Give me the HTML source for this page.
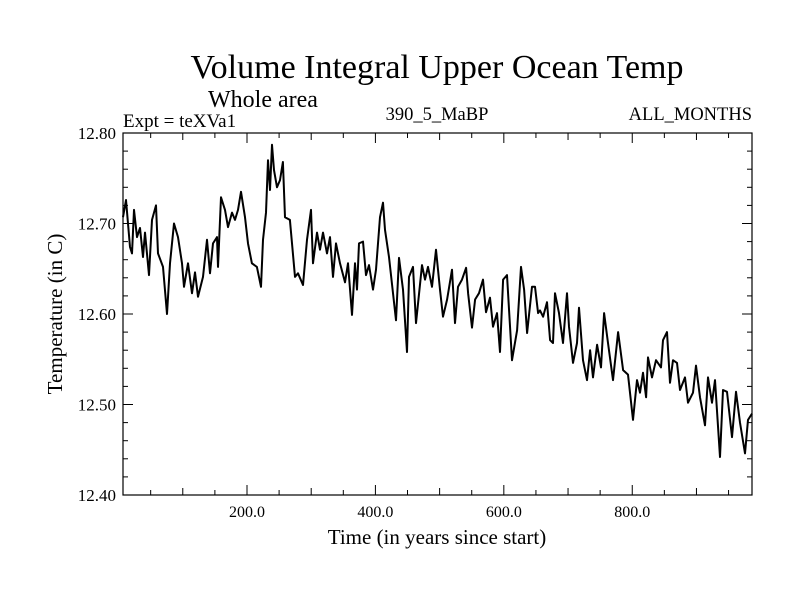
<!DOCTYPE html>
<html><head><meta charset="utf-8"><style>
body{margin:0;background:#fff}
svg{display:block}
text{font-family:"Liberation Serif",serif;fill:#000}
</style></head><body>
<svg id="chart" width="800" height="600" viewBox="0 0 800 600">
<rect width="800" height="600" fill="#fff"/>
<text x="437" y="78" font-size="34" text-anchor="middle">Volume Integral Upper Ocean Temp</text>
<text x="208" y="107" font-size="24">Whole area</text>
<text x="123" y="127" font-size="19">Expt = teXVa1</text>
<text x="437" y="120" font-size="18.5" text-anchor="middle">390_5_MaBP</text>
<text x="752" y="120" font-size="18.5" text-anchor="end">ALL_MONTHS</text>
<text x="437" y="544" font-size="21" text-anchor="middle">Time (in years since start)</text>
<text transform="translate(62,314) rotate(-90)" font-size="21" text-anchor="middle">Temperature (in C)</text>
<g id="axes"></g>
<rect x="123" y="133" width="629" height="362" fill="none" stroke="#000" stroke-width="1.2"/>
</svg>
<script>
const years=[6.9,11.5,17.8,20.9,24.0,28.7,33.3,38.0,41.1,47.4,52.0,58.3,61.4,69.2,75.4,80.1,86.3,92.5,98.8,101.9,108.1,114.3,119.0,123.7,131.5,137.7,142.4,147.0,153.3,154.8,159.5,165.7,170.4,176.6,181.3,186.0,190.6,196.9,201.5,207.7,215.5,221.8,224.9,229.6,232.7,235.8,238.9,242.0,246.7,251.4,256.0,259.2,266.9,274.7,279.4,287.2,293.4,299.7,302.8,309.0,313.7,318.4,324.6,329.3,334.0,338.6,344.8,352.6,357.3,363.5,368.2,371.3,374.4,380.7,385.3,390.0,396.2,400.9,407.1,411.8,414.9,421.2,427.4,432.1,436.8,443.0,449.2,452.3,458.6,463.2,472.6,477.3,481.9,488.2,494.4,500.6,505.3,511.6,519.3,524.0,528.7,534.9,541.2,544.3,550.5,555.2,561.4,567.6,572.3,578.5,583.2,589.4,594.1,598.8,605.0,612.8,620.6,626.8,631.5,636.2,643.9,648.6,653.3,656.4,661.1,667.3,672.0,676.6,679.7,686.0,692.2,698.4,701.5,707.8,714.0,717.1,723.3,729.6,734.3,738.9,745.2,751.4,756.1,762.3,770.1,777.9,785.7,793.4,801.2,807.4,812.1,816.8,821.5,824.6,830.8,837.0,844.8,847.9,854.1,858.8,863.5,869.7,874.4,882.2,886.8,894.6,899.3,905.5,913.3,918.0,924.2,928.9,936.7,941.3,947.6,955.4,961.6,967.8,975.6,980.3,986.5];
const temps=[12.707,12.726,12.674,12.667,12.715,12.685,12.695,12.663,12.69,12.643,12.704,12.72,12.667,12.652,12.60,12.656,12.70,12.685,12.656,12.63,12.656,12.623,12.646,12.619,12.641,12.682,12.645,12.678,12.685,12.652,12.729,12.715,12.696,12.712,12.704,12.715,12.735,12.707,12.678,12.656,12.652,12.63,12.682,12.712,12.77,12.737,12.787,12.759,12.74,12.748,12.768,12.707,12.704,12.641,12.645,12.632,12.682,12.715,12.656,12.69,12.671,12.69,12.667,12.685,12.641,12.678,12.656,12.635,12.656,12.599,12.656,12.627,12.678,12.68,12.643,12.654,12.627,12.649,12.707,12.723,12.693,12.663,12.623,12.593,12.662,12.627,12.558,12.641,12.652,12.59,12.654,12.638,12.652,12.63,12.671,12.627,12.597,12.616,12.649,12.59,12.63,12.638,12.651,12.623,12.585,12.616,12.623,12.638,12.602,12.618,12.586,12.601,12.558,12.638,12.643,12.549,12.582,12.652,12.627,12.579,12.63,12.63,12.601,12.604,12.597,12.613,12.571,12.568,12.623,12.601,12.568,12.623,12.586,12.546,12.568,12.607,12.549,12.527,12.56,12.53,12.566,12.541,12.601,12.568,12.527,12.58,12.538,12.533,12.483,12.527,12.513,12.535,12.508,12.552,12.53,12.549,12.541,12.571,12.58,12.524,12.549,12.546,12.516,12.53,12.502,12.513,12.543,12.508,12.477,12.53,12.502,12.527,12.442,12.516,12.514,12.464,12.514,12.48,12.446,12.483,12.49];
const xTickLabels=["200.0","400.0","600.0","800.0"];
const xTickValues=[200,400,600,800];
const yTickLabels=["12.40","12.50","12.60","12.70","12.80"];
const yTickValues=[12.4,12.5,12.6,12.7,12.8];
const X0=123,X1=752,Y0=495,Y1=133,xMin=6.9,xMax=986.5,yMin=12.4,yMax=12.8;
const xs=v=>X0+(v-xMin)/(xMax-xMin)*(X1-X0);
const ys=v=>Y0-(v-yMin)/(yMax-yMin)*(Y0-Y1);
const NS="http://www.w3.org/2000/svg";
const g=document.getElementById('axes');
function mk(t,a){const e=document.createElementNS(NS,t);for(const k in a)e.setAttribute(k,a[k]);g.appendChild(e);return e;}
for(let v=50;v<xMax;v+=50){
 const x=xs(v),L=(v%200===0)?10:(v%100===0?7:5);
 const t1=mk('line',{x1:x,x2:x,y1:Y0,y2:Y0-L,stroke:'#000'});
 
 
 const t2=mk('line',{x1:x,x2:x,y1:Y1,y2:Y1+L,stroke:'#000'});
 
 
}
xTickValues.forEach((v,i)=>{
 const t=mk('text',{x:xs(v),y:Y0+22,'font-size':16,'text-anchor':'middle'});
 t.textContent=xTickLabels[i];
 
 
});
for(let k=0;k<=20;k++){
 const v=yMin+k*0.02,y=ys(v),L=(k%5===0)?10:5;
 const t1=mk('line',{x1:X0,x2:X0+L,y1:y,y2:y,stroke:'#000'});
 
 
 const t2=mk('line',{x1:X1,x2:X1-L,y1:y,y2:y,stroke:'#000'});
 
 
}
yTickValues.forEach((v,i)=>{
 const t=mk('text',{x:X0-7,y:ys(v)+6,'font-size':17,'text-anchor':'end'});
 t.textContent=yTickLabels[i];
 
 
});
const d=years.map((v,i)=>(i?'L':'M')+xs(v).toFixed(1)+','+ys(temps[i]).toFixed(1)).join('');
const p=mk('path',{d:d,fill:'none',stroke:'#000','stroke-width':2,'stroke-linejoin':'round'});


</script>
</body></html>
